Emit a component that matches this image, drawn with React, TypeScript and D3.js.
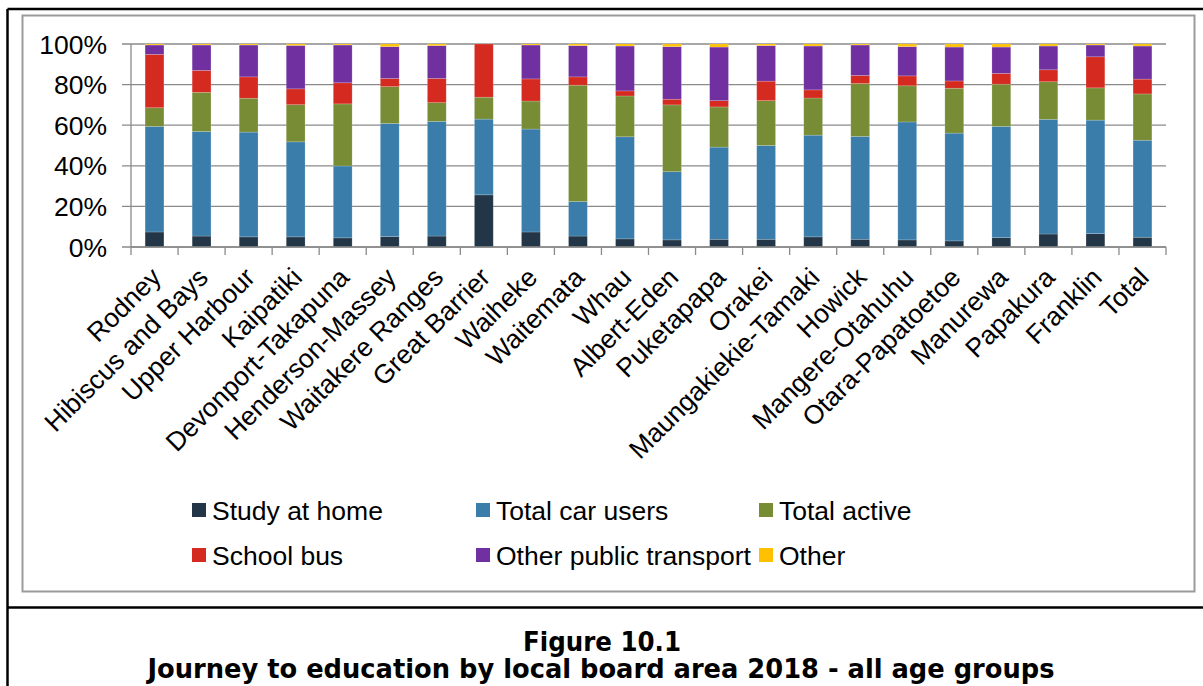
import React from "react";
import * as d3 from "d3";

const categories = [
  "Rodney", "Hibiscus and Bays", "Upper Harbour", "Kaipatiki", "Devonport-Takapuna",
  "Henderson-Massey", "Waitakere Ranges", "Great Barrier", "Waiheke", "Waitemata",
  "Whau", "Albert-Eden", "Puketapapa", "Orakei", "Maungakiekie-Tamaki", "Howick",
  "Mangere-Otahuhu", "Otara-Papatoetoe", "Manurewa", "Papakura", "Franklin", "Total",
];

const seriesNames = ["Study at home", "Total car users", "Total active", "School bus", "Other public transport", "Other"];
const seriesColors = ["#233647", "#3a7dab", "#778c35", "#d52a1f", "#7030a0", "#ffc000"];

const studyAtHome = [7.4, 5.4, 5.0, 5.0, 4.5, 5.1, 5.4, 25.7, 7.4, 5.4, 4.0, 3.5, 3.8, 3.8, 5.0, 3.8, 3.5, 3.0, 4.6, 6.4, 6.6, 4.8];
const totalCarUsers = [52.0, 51.5, 51.6, 46.8, 35.4, 55.8, 56.5, 37.3, 50.7, 17.0, 50.3, 33.6, 45.4, 46.2, 50.1, 50.7, 58.1, 53.1, 54.8, 56.5, 55.9, 47.8];
const totalActive = [9.2, 19.3, 16.7, 18.3, 30.6, 18.1, 9.2, 10.8, 13.8, 57.3, 20.1, 32.9, 19.8, 22.1, 18.3, 26.0, 17.8, 22.1, 20.8, 18.5, 15.9, 22.8];
const schoolBus = [26.3, 10.8, 10.5, 7.8, 10.4, 4.0, 11.9, 26.2, 10.9, 4.1, 2.5, 2.8, 3.1, 9.6, 4.0, 4.0, 4.9, 3.6, 5.3, 5.9, 15.3, 7.3];
const otherPublicTransport = [4.6, 12.5, 15.7, 21.4, 18.6, 15.7, 16.2, 0, 16.7, 15.4, 22.1, 25.9, 26.4, 17.5, 21.6, 15.0, 14.4, 16.7, 13.0, 11.7, 5.8, 16.3];
const other = [0.5, 0.5, 0.5, 0.7, 0.5, 1.3, 0.8, 0, 0.5, 0.8, 1.0, 1.3, 1.5, 0.8, 1.0, 0.5, 1.3, 1.5, 1.5, 1.0, 0.5, 1.0];

const yTicks = [0, 0.2, 0.4, 0.6, 0.8, 1.0];

const seriesValues = [studyAtHome, totalCarUsers, totalActive, schoolBus, otherPublicTransport, other];

export default function App() {
  const W = 1203, H = 686;
  const left = 131, right = 1166, top = 44, bottom = 247;

  const rows = categories.map((c, i) => {
    const r: any = { cat: c };
    seriesNames.forEach((s, k) => (r[s] = seriesValues[k][i]));
    return r;
  });
  const stackGen = d3.stack<any>().keys(seriesNames).offset(d3.stackOffsetExpand);
  const stacked = stackGen(rows);

  const x = d3.scaleBand<string>().domain(categories).range([left, right]).paddingInner(0.6).paddingOuter(0.3);
  const y = d3.scaleLinear().domain([0, 1]).range([bottom, top]);
  const step = x.step();
  const fmt = d3.format(".0%");
  const font = "'Liberation Sans', Arial, sans-serif";
  const fs = 26.5;

  const legendItems = seriesNames.map((s, i) => ({
    name: s,
    color: seriesColors[i],
    col: i % 3,
    row: Math.floor(i / 3),
  }));
  const legendX = [192, 476, 759];
  const legendY = [510, 555];

  return (
    <svg width={W} height={H} style={{ position: "absolute", left: 0, top: 0, background: "#fff" }}>
      <rect x={0} y={0} width={W} height={H} fill="#fff" />
      {/* outer frame */}
      <line x1={7.5} y1={9} x2={W} y2={9} stroke="#000" strokeWidth={2.5} />
      <line x1={7.5} y1={9} x2={7.5} y2={H} stroke="#000" strokeWidth={2.5} />
      <line x1={7.5} y1={607.5} x2={W} y2={607.5} stroke="#000" strokeWidth={2.5} />
      {/* chart area border */}
      <rect x={22.5} y={15.5} width={1172} height={576} fill="#fff" stroke="#9b9b9b" strokeWidth={2} />

      {/* gridlines */}
      {yTicks.map((t) => (
        <g key={t}>
          <line x1={left - 9} x2={right} y1={y(t)} y2={y(t)} stroke="#8a8a8a" strokeWidth={1.3} />
          <text x={107} y={y(t)} dy="0.36em" textAnchor="end" fontFamily={font} fontSize={fs} fill="#000">
            {fmt(t)}
          </text>
        </g>
      ))}
      {/* y axis */}
      <line x1={left} x2={left} y1={top} y2={bottom} stroke="#8a8a8a" strokeWidth={1.3} />

      {/* bars */}
      {stacked.map((layer, k) => (
        <g key={layer.key} fill={seriesColors[k]}>
          {layer.map((d, i) => {
            const h = y(d[0]) - y(d[1]);
            if (h <= 0) return null;
            return (
              <rect
                key={i}
                x={x(categories[i])}
                y={y(d[1])}
                width={x.bandwidth()}
                height={h}
                stroke="rgba(255,255,255,0.25)"
                strokeWidth={0.7}
              />
            );
          })}
        </g>
      ))}

      {/* x axis */}
      <line x1={left} x2={right} y1={bottom} y2={bottom} stroke="#8a8a8a" strokeWidth={1.3} />
      {d3.range(categories.length + 1).map((i) => (
        <line key={i} x1={left + i * step} x2={left + i * step} y1={bottom} y2={bottom + 8} stroke="#8a8a8a" strokeWidth={1.3} />
      ))}
      {categories.map((c) => {
        const cx = (x(c) as number) + x.bandwidth() / 2;
        return (
          <text
            key={c}
            transform={`translate(${cx + 8},${279}) rotate(-45)`}
            textAnchor="end"
            fontFamily={font}
            fontSize={fs}
            fill="#000"
          >
            {c}
          </text>
        );
      })}

      {/* legend */}
      {legendItems.map((it) => (
        <g key={it.name} transform={`translate(${legendX[it.col]},${legendY[it.row]})`}>
          <rect x={0} y={-7} width={14} height={14} fill={it.color} />
          <text x={20} y={0} dy="0.36em" fontFamily={font} fontSize={fs} fill="#000">
            {it.name}
          </text>
        </g>
      ))}

      {/* titles */}
      <text x={602} y={651} textAnchor="middle" fontFamily="'DejaVu Sans', Verdana, sans-serif" fontWeight="bold" fontSize={27} textLength={158} lengthAdjust="spacingAndGlyphs" fill="#000">
        Figure 10.1
      </text>
      <text x={601} y={678} textAnchor="middle" fontFamily="'DejaVu Sans', Verdana, sans-serif" fontWeight="bold" fontSize={26} textLength={907} lengthAdjust="spacingAndGlyphs" fill="#000">
        Journey to education by local board area 2018 - all age groups
      </text>
    </svg>
  );
}
